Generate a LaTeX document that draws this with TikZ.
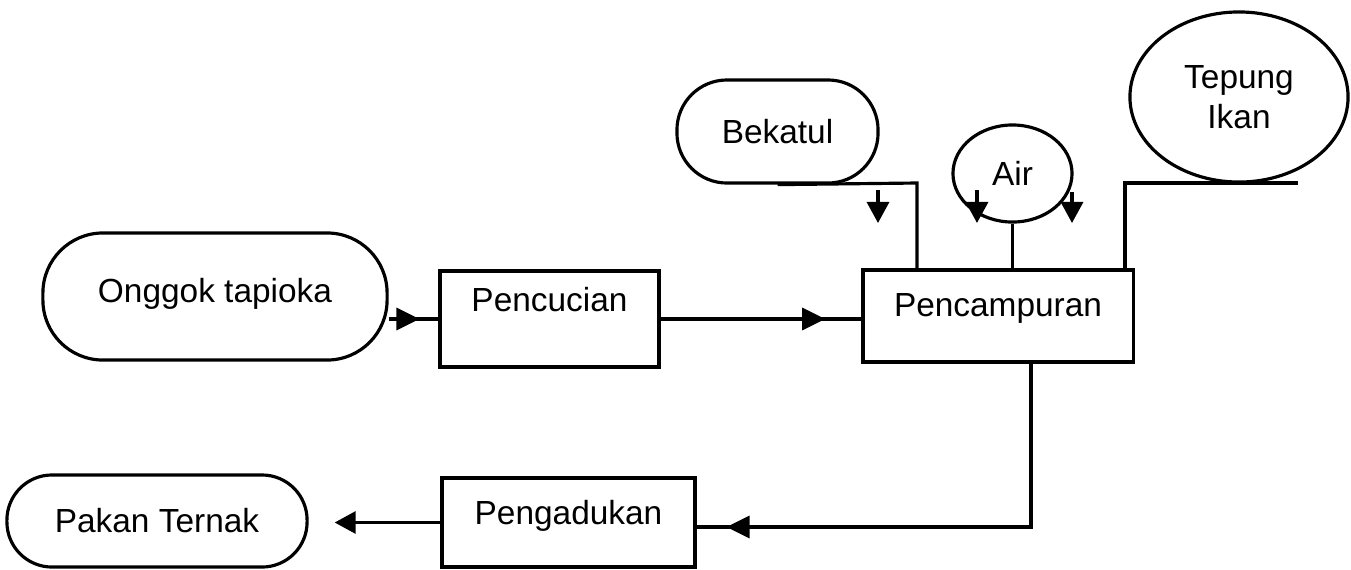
\documentclass[tikz,border=0pt]{standalone}
\usepackage{fontspec}
\setmainfont{Liberation Sans}
\usetikzlibrary{arrows.meta,positioning,shapes.geometric,decorations.markings}
\tikzset{every node/.append style={font=\fontsize{9.5}{11.5}\selectfont}}
\tikzset{
  proses/.style={draw, line width=0.9pt, rectangle, inner sep=0pt, text height=7pt},
  bahan/.style={draw, line width=0.9pt, rectangle, rounded corners=#1, inner sep=0pt},
  bulat/.style={draw, line width=0.9pt, ellipse, inner sep=0pt},
  alur/.style={line width=0.9pt},
  panah/.style={-{Triangle[length=2.1mm,width=2.2mm]}},
  tengah/.style={postaction={decorate},
    decoration={markings, mark=at position #1 with {\arrow{Triangle[length=2.3mm,width=2.2mm]}}}}
}

\begin{document}
\begin{tikzpicture}[x=0.01cm, y=-0.01cm]
            \useasboundingbox (0,0) rectangle (1351,569);% keep the page size
            % bahan dan proses
            \node[bahan=6mm, minimum width=3.44cm, minimum height=1.27cm, text height=7pt, text depth=3.6pt]
                (onggok) at (215,296.5) {Onggok tapioka};
            \node[proses, text depth=11pt, minimum width=2.19cm, minimum height=0.96cm]
                (pencucian) at (549.5,319) {Pencucian};
            \node[proses, text depth=6.7pt, minimum width=2.70cm, minimum height=0.92cm]
                (pencampuran) at (998,316) {Pencampuran};
            \node[proses, text depth=5.6pt, minimum width=2.53cm, minimum height=0.89cm]
                (pengadukan) at (568.5,522.5) {Pengadukan};
            \node[bahan=4.5mm, minimum width=3.00cm, minimum height=0.92cm]
                (pakan) at (157,521) {Pakan Ternak};
            \node[bahan=5mm, minimum width=2.01cm, minimum height=1.03cm]
                (bekatul) at (777.5,131.5) {Bekatul};
            \node[bulat, minimum width=1.19cm, minimum height=0.97cm]
                (air) at (1012.5,173.5) {Air};
            \node[bulat, align=center, minimum width=2.18cm, minimum height=1.70cm]
                (tepung) at (1239,97) {Tepung\\Ikan};
            % titik bantu
            \coordinate (bek) at (917,183);% corner of the bekatul line
            \coordinate (tepkanan) at (1298,183);% end of the tepung line
            \coordinate (tepkiri) at (1125,183);% corner of the tepung line
            \coordinate (belok) at (1031,527);% corner below pencampuran
            \coordinate (p1) at (878,190);\coordinate (q1) at (878,223);% small arrow bekatul
            \coordinate (p2) at (977,190);\coordinate (q2) at (977,223);% small arrow air, left
            \coordinate (p3) at (1072,192);\coordinate (q3) at (1072,223);% small arrow air, right
            % alur utama
            \draw[alur, tengah=0.62] (onggok.east |- pencucian.west) -- (pencucian.west);
            \draw[alur, tengah=0.82] (pencucian.east) -- (pencucian.east -| pencampuran.west);
            \draw[alur, tengah=0.94] (belok |- pencampuran.south) -- (belok) -- (belok -| pengadukan.east);
            \draw[alur, panah, shorten >=0.26cm] (pengadukan.west) -- (pengadukan.west -| pakan.east);
            % masukan dari atas
            \draw[alur] (bekatul.south) -- (bek) -- (bek |- pencampuran.north);
            \draw[alur] (air.south) -- (air.south |- pencampuran.north);
            \draw[alur] (tepkanan) -- (tepkiri) -- (tepkiri |- pencampuran.north);
            \draw[alur, panah] (p1) -- (q1);
            \draw[alur, panah] (p2) -- (q2);
            \draw[alur, panah] (p3) -- (q3);
\end{tikzpicture}
\end{document}
